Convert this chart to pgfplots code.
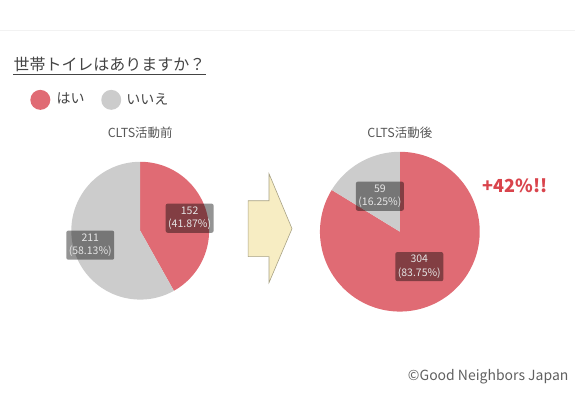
\documentclass[border=0pt]{standalone}
\usepackage{pgfplots}
\pgfplotsset{compat=1.18}
\usepackage{fontspec}
\setmainfont{Noto Sans CJK JP}
\definecolor{pieRed}{HTML}{E06B74}
\definecolor{pieGray}{HTML}{CCCCCC}
\definecolor{txt}{HTML}{444444}
\definecolor{arrowFill}{HTML}{F7EDC3}
\definecolor{arrowDraw}{HTML}{A8A285}
\definecolor{plusRed}{HTML}{D9444C}
% data
\def\beforeYes{152}\def\beforeNo{211}
\def\afterYes{304}\def\afterNo{59}
\begin{document}
\begin{tikzpicture}
\pgfmathsetmacro{\angA}{360*(\beforeYes/(\beforeYes+\beforeNo))}
\pgfmathsetmacro{\angB}{360*(\afterYes/(\afterYes+\afterNo))}
\begin{axis}[width=575bp, height=393bp, scale only axis,
  xmin=0, xmax=575, ymin=0, ymax=393, hide axis, clip=false]
\path (axis cs:0,0) rectangle (axis cs:575,393);
\draw[color=black!5, line width=0.8bp] (axis cs:0,363) -- (axis cs:575,363);
% title
\node[anchor=base west, text=txt, font=\fontsize{16bp}{18bp}\selectfont, inner sep=0] at (axis cs:13,322) {世帯トイレはありますか？};
\draw[txt, line width=1.2bp] (axis cs:13,318.5) -- (axis cs:206,318.5);
% legend
\fill[pieRed] (axis cs:40,293) circle[radius=10bp];
\node[anchor=west, text=txt, font=\fontsize{14bp}{16bp}\selectfont, inner sep=0] at (axis cs:56,294) {はい};
\fill[pieGray] (axis cs:111,293) circle[radius=10bp];
\node[anchor=west, text=txt, font=\fontsize{14bp}{16bp}\selectfont, inner sep=0] at (axis cs:126,294) {いいえ};
% pie titles
\node[text=txt!90, font=\fontsize{12.5bp}{14bp}\selectfont] at (axis cs:140,260) {CLTS活動前};
\node[text=txt!90, font=\fontsize{12.5bp}{14bp}\selectfont] at (axis cs:400,260) {CLTS活動後};
% pie 1
\addplot[fill=pieRed, draw=none, domain=90:{90-\angA}, samples=100, variable=\t]
  ({140+69*cos(\t)}, {162+69*sin(\t)}) -- (axis cs:140,162) -- cycle;
\addplot[fill=pieGray, draw=none, domain={90-\angA}:-270, samples=100, variable=\t]
  ({140+69*cos(\t)}, {162+69*sin(\t)}) -- (axis cs:140,162) -- cycle;
% pie 2
\addplot[fill=pieRed, draw=none, domain=90:{90-\angB}, samples=120, variable=\t]
  ({400+80*cos(\t)}, {161+80*sin(\t)}) -- (axis cs:400,161) -- cycle;
\addplot[fill=pieGray, draw=none, domain={90-\angB}:-270, samples=60, variable=\t]
  ({400+80*cos(\t)}, {161+80*sin(\t)}) -- (axis cs:400,161) -- cycle;
% labels
\tikzset{lbl/.style={fill=black, fill opacity=0.42, text opacity=1, text=white!90!black,
  rounded corners=2bp, align=center, inner xsep=2.5bp, inner ysep=3bp,
  font=\fontsize{10.5bp}{13.5bp}\selectfont}}
\node[lbl] at (axis cs:189.5,174.5) {152\\(41.87\%)};
\node[lbl] at (axis cs:90,147.5) {211\\(58.13\%)};
\node[lbl] at (axis cs:380,196.5) {59\\(16.25\%)};
\node[lbl] at (axis cs:419.5,126) {304\\(83.75\%)};
% arrow
\draw[fill=arrowFill, draw=arrowDraw, line width=0.6bp]
  (axis cs:248,192) -- (axis cs:269,192) -- (axis cs:269,219) -- (axis cs:292,164)
  -- (axis cs:269,110) -- (axis cs:269,136) -- (axis cs:248,136) -- cycle;
% +42%
\node[anchor=west, text=plusRed, font=\fontsize{18bp}{20bp}\selectfont\bfseries, inner sep=0] at (axis cs:483,207) {+42\%!!};
% copyright
\node[anchor=east, text=txt!85, font=\fontsize{14bp}{16bp}\selectfont, inner sep=0] at (axis cs:569,16) {©Good Neighbors Japan};
\end{axis}
\end{tikzpicture}
\end{document}
